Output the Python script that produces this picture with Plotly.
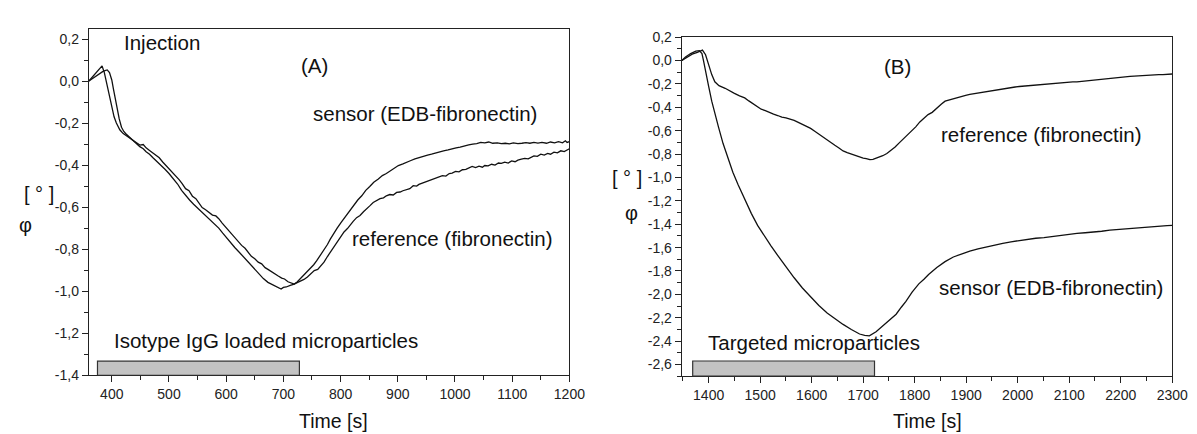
import plotly.graph_objects as go

# ---------------- data ----------------
# Panel A: time [s], phase [deg]
A_SENSOR = [(360,0.000),(366,0.012),(372,0.025),(378,0.035),(384,0.045),(388,0.050),(392,0.053),(396,0.040),
    (400,0.005),(403,-0.040),(407,-0.100),(410,-0.140),(413,-0.180),(417,-0.220),(421,-0.240),(425,-0.252),
    (430,-0.266),(435,-0.280),(441,-0.292),(449,-0.312),(455,-0.322),(460,-0.336),(466,-0.348),(472,-0.365),
    (479,-0.382),(486,-0.402),(493,-0.420),(500,-0.440),(507,-0.462),(515,-0.490),(522,-0.520),(529,-0.546),
    (536,-0.566),(543,-0.586),(550,-0.604),(558,-0.622),(565,-0.642),(572,-0.662),(580,-0.680),(587,-0.700),
    (594,-0.724),(600,-0.745),(608,-0.768),(615,-0.792),(622,-0.812),(630,-0.836),(637,-0.858),(644,-0.882),
    (651,-0.900),(658,-0.920),(665,-0.940),(673,-0.958),(680,-0.968),(687,-0.978),(692,-0.984),(696,-0.990),
    (700,-0.982),(705,-0.980),(712,-0.972),(719,-0.966),(724,-0.956),(728,-0.945),(732,-0.932),(736,-0.920),
    (741,-0.910),(745,-0.898),(749,-0.886),(753,-0.874),(758,-0.856),(762,-0.840),(767,-0.822),(771,-0.806),
    (777,-0.778),(782,-0.752),(788,-0.724),(794,-0.700),(801,-0.672),(808,-0.646),(815,-0.618),(822,-0.592),
    (830,-0.566),(837,-0.546),(844,-0.520),(851,-0.502),(858,-0.482),(866,-0.466),(873,-0.450),(880,-0.440),
    (887,-0.426),(894,-0.416),(901,-0.402),(909,-0.394),(916,-0.384),(923,-0.378),(930,-0.370),(937,-0.364),
    (944,-0.356),(952,-0.352),(959,-0.348),(966,-0.342),(973,-0.338),(980,-0.332),(988,-0.328),(995,-0.322),
    (1002,-0.318),(1009,-0.314),(1016,-0.308),(1024,-0.304),(1031,-0.300),(1038,-0.298),(1045,-0.292),
    (1052,-0.294),(1059,-0.290),(1066,-0.296),(1074,-0.294),(1081,-0.298),(1088,-0.296),(1095,-0.299),
    (1102,-0.294),(1110,-0.298),(1117,-0.296),(1124,-0.293),(1131,-0.296),(1138,-0.292),(1145,-0.295),
    (1152,-0.292),(1160,-0.296),(1167,-0.290),(1174,-0.294),(1181,-0.288),(1188,-0.294),(1193,-0.284),
    (1196,-0.292),(1200,-0.288)]

A_REFERENCE = [(360,0.000),(366,0.020),(372,0.040),(378,0.055),(383,0.072),(387,0.040),(391,-0.010),
    (395,-0.070),(400,-0.133),(404,-0.170),(408,-0.200),(414,-0.232),(420,-0.250),(426,-0.262),(431,-0.270),
    (437,-0.284),(443,-0.292),(449,-0.305),(455,-0.302),(460,-0.318),(466,-0.330),(472,-0.342),(477,-0.350),
    (483,-0.365),(489,-0.385),(495,-0.402),(500,-0.418),(506,-0.436),(512,-0.452),(518,-0.470),(523,-0.488),
    (529,-0.512),(535,-0.522),(541,-0.548),(547,-0.560),(553,-0.586),(558,-0.602),(564,-0.612),(570,-0.626),
    (576,-0.638),(582,-0.642),(587,-0.655),(593,-0.676),(599,-0.695),(605,-0.712),(611,-0.734),(615,-0.748),
    (621,-0.762),(627,-0.782),(633,-0.796),(639,-0.818),(644,-0.834),(650,-0.846),(656,-0.862),(662,-0.870),
    (668,-0.888),(673,-0.896),(679,-0.908),(685,-0.920),(691,-0.928),(697,-0.938),(702,-0.942),(708,-0.955),
    (713,-0.960),(719,-0.966),(725,-0.958),(731,-0.952),(736,-0.944),(742,-0.932),(748,-0.918),(754,-0.902),
    (760,-0.896),(765,-0.882),(771,-0.862),(777,-0.835),(783,-0.810),(789,-0.788),(794,-0.762),(800,-0.742),
    (806,-0.718),(812,-0.702),(818,-0.680),(822,-0.668),(828,-0.650),(834,-0.640),(840,-0.622),(846,-0.604),
    (851,-0.594),(857,-0.578),(863,-0.570),(869,-0.560),(875,-0.556),(880,-0.546),(886,-0.540),(892,-0.542),
    (898,-0.530),(904,-0.528),(909,-0.522),(915,-0.516),(921,-0.512),(927,-0.498),(933,-0.500),(937,-0.492),
    (943,-0.486),(949,-0.478),(955,-0.474),(961,-0.466),(966,-0.462),(972,-0.455),(978,-0.450),(984,-0.452),
    (990,-0.440),(995,-0.438),(1001,-0.430),(1007,-0.432),(1013,-0.422),(1019,-0.420),(1024,-0.414),
    (1030,-0.406),(1036,-0.412),(1042,-0.405),(1048,-0.410),(1052,-0.402),(1058,-0.404),(1064,-0.396),
    (1070,-0.400),(1076,-0.390),(1081,-0.392),(1087,-0.386),(1093,-0.390),(1099,-0.380),(1105,-0.384),
    (1110,-0.376),(1116,-0.372),(1122,-0.368),(1128,-0.370),(1134,-0.360),(1138,-0.356),(1144,-0.358),
    (1150,-0.348),(1156,-0.352),(1162,-0.344),(1167,-0.348),(1173,-0.338),(1179,-0.342),(1185,-0.332),
    (1191,-0.336),(1196,-0.326),(1200,-0.322)]

# Panel B
B_SENSOR = [(1348,0.000),(1355,0.030),(1365,0.060),(1375,0.080),(1382,0.085),(1387,0.060),(1390,0.000),
    (1393,-0.072),(1400,-0.220),(1406,-0.347),(1412,-0.460),(1419,-0.567),(1428,-0.710),(1438,-0.841),
    (1447,-0.955),(1457,-1.061),(1470,-1.190),(1483,-1.309),(1495,-1.410),(1508,-1.500),(1521,-1.585),
    (1534,-1.666),(1550,-1.765),(1566,-1.858),(1582,-1.945),(1598,-2.023),(1614,-2.095),(1630,-2.160),
    (1645,-2.210),(1661,-2.257),(1677,-2.300),(1693,-2.339),(1703,-2.350),(1712,-2.355),(1725,-2.320),
    (1738,-2.270),(1751,-2.220),(1764,-2.170),(1774,-2.110),(1783,-2.060),(1795,-1.980),(1808,-1.910),
    (1818,-1.870),(1827,-1.830),(1843,-1.770),(1859,-1.720),(1875,-1.680),(1891,-1.652),(1907,-1.630),
    (1923,-1.611),(1939,-1.593),(1955,-1.578),(1971,-1.563),(1987,-1.550),(2003,-1.539),(2019,-1.528),
    (2035,-1.520),(2051,-1.515),(2067,-1.505),(2083,-1.496),(2099,-1.487),(2115,-1.479),(2131,-1.473),
    (2147,-1.468),(2163,-1.460),(2179,-1.451),(2195,-1.445),(2210,-1.440),(2226,-1.432),(2242,-1.424),
    (2258,-1.420),(2274,-1.418),(2290,-1.412),(2300,-1.410)]

B_REFERENCE = [(1348,0.000),(1358,0.030),(1368,0.055),(1378,0.070),(1388,0.090),(1394,0.050),(1400,-0.045),
    (1406,-0.120),(1412,-0.182),(1420,-0.215),(1432,-0.237),(1441,-0.262),(1450,-0.280),(1460,-0.302),
    (1470,-0.319),(1478,-0.345),(1486,-0.368),(1494,-0.392),(1502,-0.416),(1510,-0.428),(1518,-0.445),
    (1526,-0.458),(1534,-0.470),(1542,-0.484),(1550,-0.490),(1558,-0.498),(1566,-0.512),(1574,-0.528),
    (1582,-0.545),(1590,-0.558),(1598,-0.580),(1606,-0.604),(1614,-0.630),(1622,-0.652),(1630,-0.676),
    (1638,-0.702),(1645,-0.725),(1653,-0.748),(1661,-0.773),(1669,-0.788),(1677,-0.800),(1685,-0.818),
    (1693,-0.828),(1700,-0.834),(1706,-0.838),(1713,-0.848),(1719,-0.845),(1728,-0.832),(1738,-0.814),
    (1746,-0.795),(1754,-0.770),(1762,-0.740),(1770,-0.704),(1778,-0.670),(1786,-0.635),(1794,-0.600),
    (1802,-0.567),(1810,-0.525),(1818,-0.490),(1826,-0.462),(1834,-0.443),(1846,-0.390),(1852,-0.372),
    (1859,-0.347),(1867,-0.336),(1875,-0.325),(1883,-0.316),(1891,-0.305),(1899,-0.298),(1907,-0.290),
    (1915,-0.284),(1923,-0.278),(1931,-0.270),(1939,-0.264),(1947,-0.258),(1955,-0.251),(1963,-0.246),
    (1971,-0.240),(1979,-0.236),(1987,-0.231),(1995,-0.226),(2003,-0.222),(2011,-0.219),(2019,-0.215),
    (2027,-0.213),(2035,-0.210),(2043,-0.206),(2051,-0.204),(2059,-0.198),(2067,-0.194),(2075,-0.190),
    (2083,-0.187),(2091,-0.186),(2099,-0.185),(2107,-0.183),(2115,-0.182),(2123,-0.178),(2131,-0.175),
    (2139,-0.172),(2147,-0.168),(2155,-0.164),(2163,-0.160),(2171,-0.157),(2179,-0.154),(2187,-0.150),
    (2195,-0.147),(2202,-0.143),(2210,-0.140),(2218,-0.136),(2226,-0.133),(2234,-0.130),(2242,-0.127),
    (2250,-0.126),(2258,-0.124),(2266,-0.122),(2274,-0.121),(2282,-0.121),(2290,-0.120),(2300,-0.115)]

# injection periods (grey bars)
A_INJECTION = (375, 728)
B_INJECTION = (1369, 1722)

# axis ticks
A_X_TICKS = [400, 500, 600, 700, 800, 900, 1000, 1100, 1200]
A_Y_TICKS = [0.2, 0.0, -0.2, -0.4, -0.6, -0.8, -1.0, -1.2, -1.4]
A_Y_LABELS = ["0,2", "0,0", "-0,2", "-0,4", "-0,6", "-0,8", "-1,0", "-1,2", "-1,4"]
B_X_TICKS = [1400, 1500, 1600, 1700, 1800, 1900, 2000, 2100, 2200, 2300]
B_Y_TICKS = [0.2, 0.0, -0.2, -0.4, -0.6, -0.8, -1.0, -1.2, -1.4, -1.6, -1.8, -2.0, -2.2, -2.4, -2.6]
B_Y_LABELS = ["0,2", "0,0", "-0,2", "-0,4", "-0,6", "-0,8", "-1,0", "-1,2", "-1,4", "-1,6",
              "-1,8", "-2,0", "-2,2", "-2,4", "-2,6"]

# ---------------- figure ----------------
W, H = 1197, 434
FONT = "Liberation Sans, Arial, sans-serif"
LINE = dict(color="#111111", width=1.3)
AX = "#222222"

fig = go.Figure()
for data, xa, ya in [(A_SENSOR, "x", "y"), (A_REFERENCE, "x", "y"),
                     (B_SENSOR, "x2", "y2"), (B_REFERENCE, "x2", "y2")]:
    fig.add_trace(go.Scatter(x=[p[0] for p in data], y=[p[1] for p in data], mode="lines",
                             line=LINE, xaxis=xa, yaxis=ya, showlegend=False, hoverinfo="skip"))

def px(x):
    return x / W

def py(y):
    return 1 - y / H

common = dict(showline=True, linecolor=AX, linewidth=1.3, mirror=True, ticks="outside",
              ticklen=6, tickwidth=1.2, tickcolor=AX, showgrid=False, zeroline=False,
              tickfont=dict(family=FONT, size=14, color="#222222"))

def minor_vals(lo, hi, step):
    out = []
    v = lo
    while v <= hi + 1e-9:
        out.append(round(v, 4))
        v += step
    return out

fig.update_layout(
    width=W, height=H, margin=dict(l=0, r=0, t=0, b=0),
    paper_bgcolor="white", plot_bgcolor="white",
    xaxis=dict(domain=[px(82), px(569)], range=[360, 1200], tickmode="array", tickvals=A_X_TICKS,
               ticktext=[str(v) for v in A_X_TICKS],
               minor=dict(tickmode="array", tickvals=minor_vals(350, 1200, 50), ticks="outside",
                          ticklen=3.5, tickcolor=AX), **common),
    yaxis=dict(domain=[py(373), py(13)], range=[-1.4, 0.25], tickmode="array", tickvals=A_Y_TICKS,
               ticktext=A_Y_LABELS,
               minor=dict(tickmode="array", tickvals=minor_vals(-1.4, 0.2, 0.1), ticks="outside",
                          ticklen=3.5, tickcolor=AX), **common),
    xaxis2=dict(domain=[px(683), px(1180)], range=[1348, 2300], anchor="y2", tickmode="array",
                tickvals=B_X_TICKS, ticktext=[str(v) for v in B_X_TICKS],
                minor=dict(tickmode="array", tickvals=minor_vals(1350, 2300, 50), ticks="outside",
                           ticklen=3.5, tickcolor=AX), **common),
    yaxis2=dict(domain=[py(374), py(22)], range=[-2.7, 0.2], anchor="x2", tickmode="array",
                tickvals=B_Y_TICKS, ticktext=B_Y_LABELS,
                minor=dict(tickmode="array", tickvals=minor_vals(-2.7, 0.2, 0.1), ticks="outside",
                           ticklen=3.5, tickcolor=AX), **common),
)

# grey injection bars
fig.add_shape(type="rect", xref="x", yref="y", x0=A_INJECTION[0], x1=A_INJECTION[1], y0=-1.4, y1=-1.333,
              fillcolor="#c3c3c3", line=dict(color="#333333", width=1.2))
fig.add_shape(type="rect", xref="x2", yref="y2", x0=B_INJECTION[0], x1=B_INJECTION[1], y0=-2.7, y1=-2.57,
              fillcolor="#c3c3c3", line=dict(color="#333333", width=1.2))

def note(text, xc, yc, size=20.5, anchor="center"):
    fig.add_annotation(text=text, x=px(xc), y=py(yc), xref="paper", yref="paper", showarrow=False,
                       xanchor=anchor, yanchor="middle", font=dict(family=FONT, size=size, color="#111111"))

# panel A labels
note("Injection", 156, 28)
note("(A)", 311, 51)
note("sensor (EDB-fibronectin)", 423, 101)
note("reference (fibronectin)", 451, 231)
note("Isotype IgG loaded microparticles", 261, 337)
note("Time [s]", 330, 421, size=19.5)
note("[ ° ]", 31, 185, size=20)
note("φ", 18, 217, size=20)

# panel B labels
note("(B)", 902, 52)
note("reference (fibronectin)", 1048, 123)
note("sensor (EDB-fibronectin)", 1057, 282)
note("Targeted microparticles", 817, 339)
note("Time [s]", 932, 421, size=19.5)
note("[ ° ]", 627, 168, size=20)
note("φ", 632, 205, size=20)

fig.write_html("out.html")
